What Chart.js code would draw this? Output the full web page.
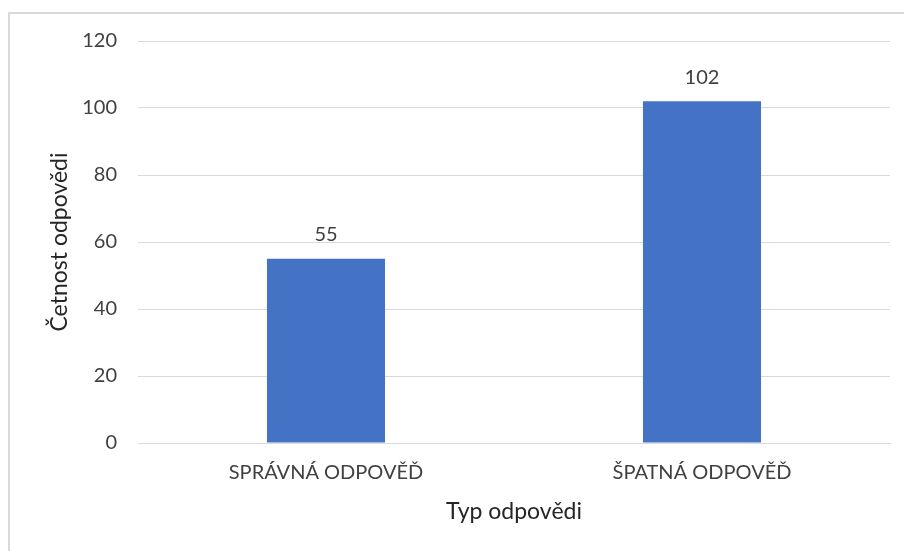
<!DOCTYPE html>
<html>
<head>
<meta charset="utf-8">
<script src="https://cdn.jsdelivr.net/npm/chart.js@4"></script>
<style>
  html, body { margin: 0; padding: 0; background: #fff; }
  #wrap { width: 904px; height: 551px; }
</style>
</head>
<body>
<div id="wrap"><canvas id="graf"></canvas></div>
<script>
// data
const kategorie = ['SPRÁVNÁ ODPOVĚĎ', 'ŠPATNÁ ODPOVĚĎ'];
const cetnosti = [55, 102];
const osaY = { min: 0, max: 120, krok: 20 };

const FONT = 'Lato, "Open Sans", sans-serif';

// ramecek okolo grafu
const ramecek = {
    id: 'ramecek',
    beforeDraw(chart) {
        const ctx = chart.ctx;
        ctx.save();
        ctx.strokeStyle = '#d9d9d9';
        ctx.lineWidth = 2;
        ctx.beginPath();
        ctx.moveTo(8, 13);
        ctx.lineTo(chart.width, 13);
        ctx.moveTo(9, 12);
        ctx.lineTo(9, chart.height);
        ctx.stroke();
        ctx.restore();
    }
};

// popisky hodnot nad sloupci
const popisky = {
    id: 'popisky',
    afterDatasetsDraw(chart) {
        const ctx = chart.ctx;
        const meta = chart.getDatasetMeta(0);
        ctx.save();
        ctx.font = '20px ' + FONT;
        ctx.fillStyle = '#404040';
        ctx.textAlign = 'center';
        ctx.textBaseline = 'middle';
        meta.data.forEach((bar, i) => {
            ctx.fillText(String(cetnosti[i]), bar.x, bar.y - 24);
        });
        ctx.restore();
    }
};

new Chart(document.getElementById('graf'), {
    type: 'bar',
    data: {
        labels: kategorie,
        datasets: [{
            data: cetnosti,
            backgroundColor: '#4472c4',
            barPercentage: 0.314,
            categoryPercentage: 1
        }]
    },
    options: {
        responsive: true,
        maintainAspectRatio: false,
        animation: false,
        layout: { padding: { left: 0, top: 41, right: 14, bottom: 0 } },
        plugins: {
            legend: { display: false },
            tooltip: { enabled: false }
        },
        scales: {
            x: {
                grid: { display: false, drawTicks: false },
                border: { color: '#d9d9d9', width: 1 },
                ticks: {
                    padding: 18,
                    color: '#404040',
                    font: { family: FONT, size: 20 }
                },
                title: {
                    display: true,
                    text: 'Typ odpovědi',
                    color: '#262626',
                    font: { family: FONT, size: 23 },
                    padding: { top: 0, bottom: 26 }
                },
                afterFit(scale) { scale.height = 108; }
            },
            y: {
                min: osaY.min,
                max: osaY.max,
                grid: { color: '#d9d9d9', lineWidth: 1, drawTicks: false },
                border: { display: false },
                ticks: {
                    stepSize: osaY.krok,
                    padding: 21,
                    color: '#404040',
                    font: { family: FONT, size: 20 }
                },
                title: {
                    display: true,
                    text: 'Četnost odpovědi',
                    color: '#262626',
                    font: { family: FONT, size: 23 },
                    padding: { top: 46, bottom: 0 }
                },
                afterFit(scale) { scale.width = 138; }
            }
        }
    },
    plugins: [ramecek, popisky]
});
</script>
</body>
</html>
